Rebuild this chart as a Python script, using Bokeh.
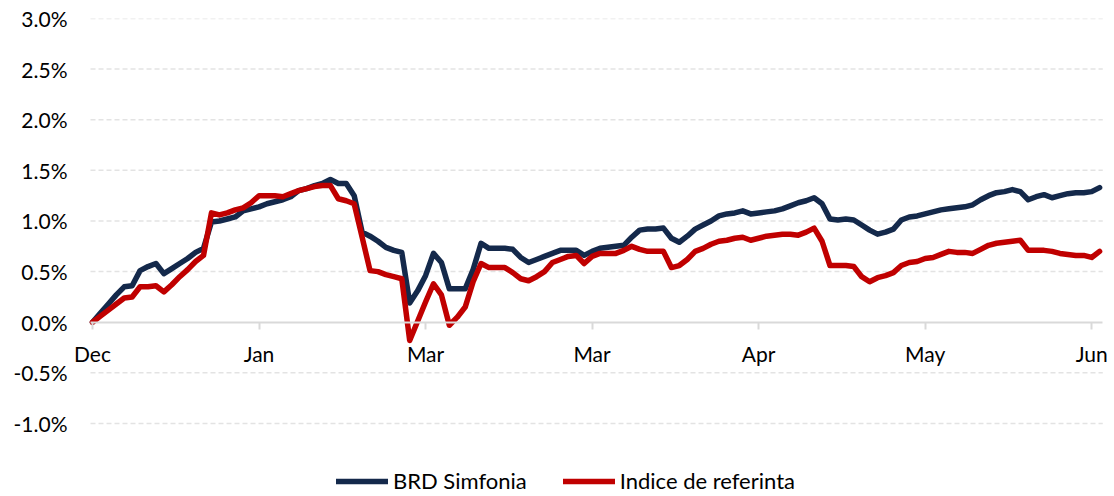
from bokeh.plotting import figure
from bokeh.models import FixedTicker, PrintfTickFormatter, LinearAxis, Legend, LegendItem, Range1d
from bokeh.embed import file_html
from bokeh.resources import INLINE

# Daily cumulative returns (%), one value per trading day
brd_simfonia = [
    0.00, 0.09, 0.18, 0.27, 0.35, 0.36, 0.51, 0.55, 0.58, 0.48,
    0.53, 0.58, 0.63, 0.69, 0.73, 0.99, 1.00, 1.02, 1.04, 1.10,
    1.12, 1.14, 1.17, 1.19, 1.21, 1.24, 1.30, 1.32, 1.35, 1.37,
    1.41, 1.37, 1.37, 1.25, 0.89, 0.85, 0.80, 0.74, 0.71, 0.69,
    0.19, 0.31, 0.46, 0.68, 0.59, 0.33, 0.33, 0.33, 0.52, 0.78,
    0.73, 0.73, 0.73, 0.72, 0.64, 0.59, 0.62, 0.65, 0.68, 0.71,
    0.71, 0.71, 0.66, 0.70, 0.73, 0.74, 0.75, 0.76, 0.84, 0.91,
    0.92, 0.92, 0.93, 0.83, 0.79, 0.85, 0.92, 0.96, 1.00, 1.05,
    1.07, 1.08, 1.10, 1.07, 1.08, 1.09, 1.10, 1.12, 1.15, 1.18,
    1.20, 1.23, 1.17, 1.02, 1.01, 1.02, 1.01, 0.96, 0.91, 0.87,
    0.89, 0.92, 1.01, 1.04, 1.05, 1.07, 1.09, 1.11, 1.12, 1.13,
    1.14, 1.16, 1.21, 1.25, 1.28, 1.29, 1.31, 1.29, 1.21, 1.24,
    1.26, 1.23, 1.25, 1.27, 1.28, 1.28, 1.29, 1.33,
]
indice_referinta = [
    0.00, 0.06, 0.12, 0.18, 0.24, 0.25, 0.35, 0.35, 0.36, 0.30,
    0.37, 0.45, 0.52, 0.60, 0.66, 1.08, 1.06, 1.08, 1.11, 1.13,
    1.18, 1.25, 1.25, 1.25, 1.24, 1.27, 1.30, 1.32, 1.34, 1.35,
    1.35, 1.22, 1.20, 1.17, 0.84, 0.51, 0.50, 0.47, 0.45, 0.43,
    -0.18, 0.01, 0.20, 0.38, 0.27, -0.03, 0.05, 0.15, 0.40, 0.58,
    0.54, 0.54, 0.54, 0.49, 0.43, 0.41, 0.45, 0.50, 0.59, 0.62,
    0.65, 0.66, 0.58, 0.65, 0.68, 0.68, 0.68, 0.71, 0.75, 0.72,
    0.70, 0.70, 0.70, 0.54, 0.56, 0.62, 0.70, 0.73, 0.77, 0.80,
    0.81, 0.83, 0.84, 0.81, 0.83, 0.85, 0.86, 0.87, 0.87, 0.86,
    0.89, 0.93, 0.80, 0.56, 0.56, 0.56, 0.55, 0.45, 0.40, 0.44,
    0.46, 0.49, 0.56, 0.59, 0.60, 0.63, 0.64, 0.67, 0.70, 0.69,
    0.69, 0.68, 0.72, 0.76, 0.78, 0.79, 0.80, 0.81, 0.71, 0.71,
    0.71, 0.70, 0.68, 0.67, 0.66, 0.66, 0.64, 0.70,
]
tick_positions = [0, 21, 42, 63, 84, 105, 126]
tick_labels = ["Dec", "Jan", "Mar", "Mar", "Apr", "May", "Jun"]
y_ticks = [-1.0, -0.5, 0.0, 0.5, 1.0, 1.5, 2.0, 2.5, 3.0]
series_names = ["BRD Simfonia", "Indice de referinta"]

FONT = "Lato"
NAVY = "#14294B"
RED = "#C00000"

x = list(range(len(brd_simfonia)))
x_lo, x_hi = -0.25, 127.4  # extent of the plotted category axis

p = figure(
    width=1114, height=496,
    output_backend="svg", toolbar_location=None,
    x_range=Range1d(-2.774, 128.88), y_range=Range1d(-1.721, 3.0),
    min_border_left=70, min_border_right=0, min_border_top=18, min_border_bottom=0,
    x_axis_location=None, y_axis_location=None,
)
p.outline_line_color = None
p.background_fill_color = "white"
p.border_fill_color = "white"
p.xgrid.grid_line_color = None
p.ygrid.grid_line_color = None

# y axis (labels only)
yaxis = LinearAxis(
    ticker=FixedTicker(ticks=y_ticks),
    formatter=PrintfTickFormatter(format="%.1f%%"),
    axis_line_color=None, major_tick_line_color=None, minor_tick_line_color=None,
    major_tick_out=0, major_tick_in=0,
    major_label_text_font=FONT, major_label_text_font_size="21px",
    major_label_text_color="#000000", major_label_standoff=3,
)
p.add_layout(yaxis, "left")

# dashed horizontal gridlines
grid_y = [t for t in y_ticks if t != 0.0]
p.segment(x0=[x_lo] * len(grid_y), x1=[x_hi] * len(grid_y), y0=grid_y, y1=grid_y,
          line_color="#E3E3E3", line_width=1.5, line_dash="5 3")

# x axis sitting on the zero line
xaxis = LinearAxis(
    ticker=FixedTicker(ticks=tick_positions),
    major_label_overrides={t: l for t, l in zip(tick_positions, tick_labels)},
    fixed_location=0, bounds=(x_lo, x_hi),
    axis_line_color="#D9D9D9", axis_line_width=2,
    major_tick_line_color="#D9D9D9", major_tick_line_width=2,
    major_tick_out=7, major_tick_in=0, minor_tick_line_color=None,
    major_label_text_font=FONT, major_label_text_font_size="21px",
    major_label_text_color="#000000", major_label_standoff=12,
)
p.add_layout(xaxis, "below")

r1 = p.line(x, brd_simfonia, line_color=NAVY, line_width=5.5, line_join="round", line_cap="round")
r2 = p.line(x, indice_referinta, line_color=RED, line_width=5.5, line_join="round", line_cap="round")

legend = Legend(
    items=[LegendItem(label=series_names[0], renderers=[r1]),
           LegendItem(label=series_names[1], renderers=[r2])],
    orientation="horizontal", location=(266, 2),
    label_text_font=FONT, label_text_font_size="22px", label_text_color="#000000",
    glyph_width=52, glyph_height=20, label_standoff=5, spacing=36,
    padding=0, margin=0, border_line_color=None, background_fill_alpha=0,
)
p.add_layout(legend, "center")

open("out.html", "w").write(file_html(p, INLINE))
